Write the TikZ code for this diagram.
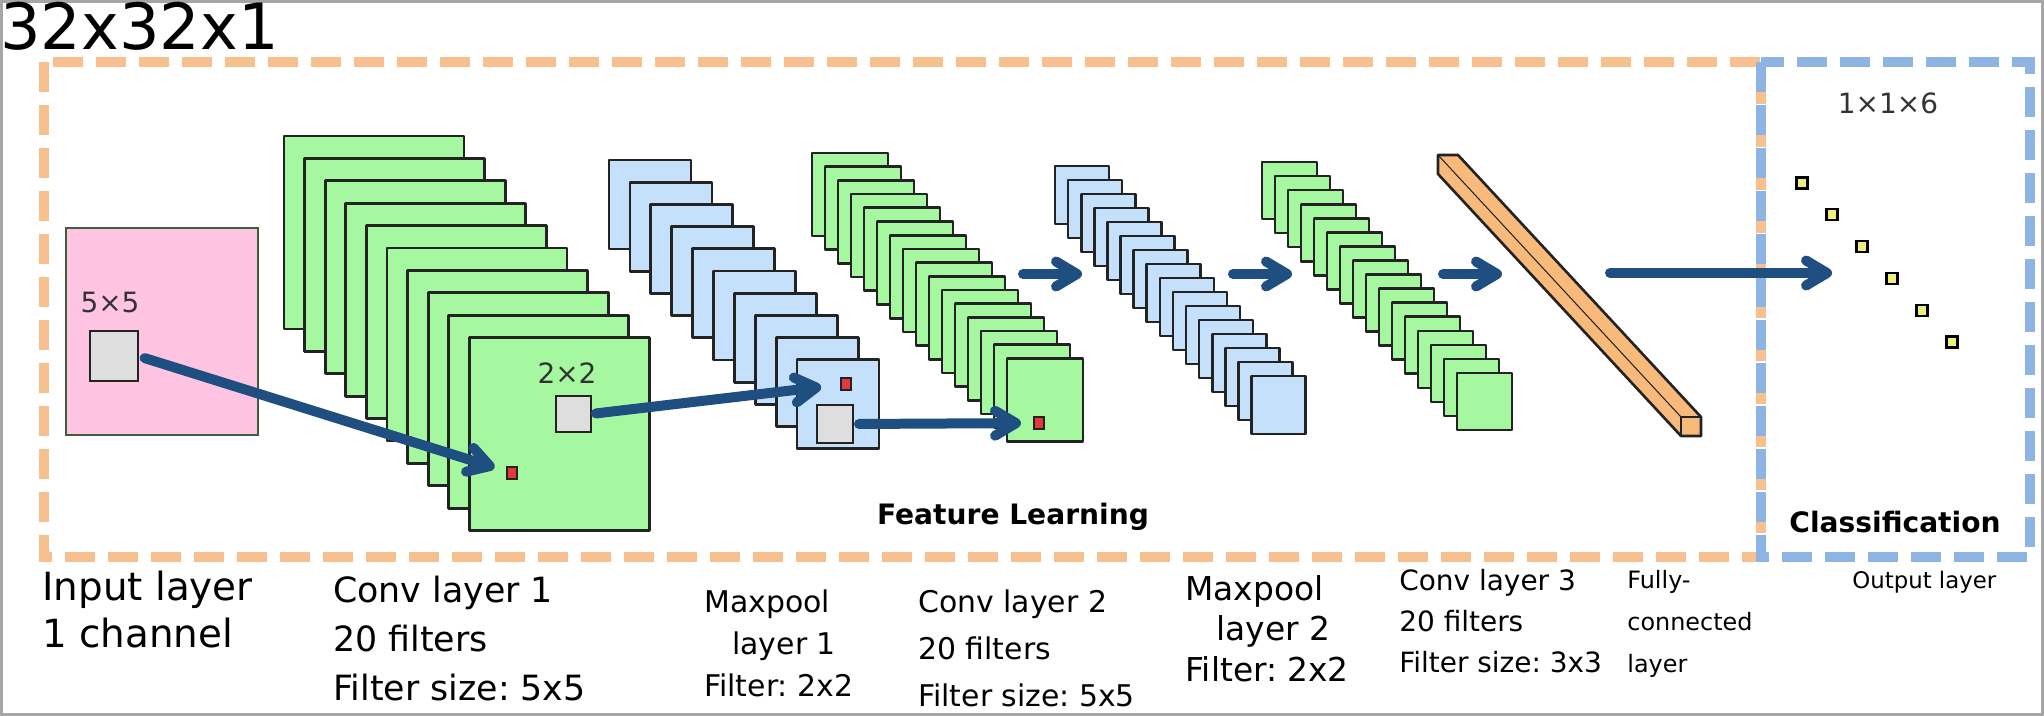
\documentclass[tikz,border=0pt]{standalone}
\usepackage{fontspec}
\setmainfont{DejaVu Sans}
\usetikzlibrary{arrows.meta,calc,positioning}
\frenchspacing

\definecolor{dashorange}{RGB}{248,192,142}
\definecolor{dashblue}{RGB}{141,180,226}
\definecolor{inpink}{RGB}{255,196,225}
\definecolor{pinkedge}{RGB}{62,92,62}
\definecolor{mapgreen}{RGB}{166,248,160}
\definecolor{poolblue}{RGB}{196,224,250}
\definecolor{fcorange}{RGB}{248,186,122}
\definecolor{arrowblue}{RGB}{31,78,128}
\definecolor{outyellow}{RGB}{238,240,122}
\definecolor{dotred}{RGB}{226,58,58}
\definecolor{edgegray}{RGB}{35,35,35}
\definecolor{framegray}{RGB}{166,166,166}

\newcommand{\fsz}[2]{\fontsize{#1}{#2}\selectfont}
\newcommand{\lyr}[1]{\begin{tabular}[t]{@{}l@{}}#1\end{tabular}}
% stack of maps: x, y, width, height, dx, dy, count, fill
\newcommand{\fmaps}[8]{%
  \foreach \k in {1,...,#7}
    \filldraw[sheet, fill=#8] ({#1+(\k-1)*#5},{#2+(\k-1)*#6}) rectangle ++(#3,#4);}

\begin{document}
\begin{tikzpicture}[x=0.02cm, y=-0.02cm,
  sheet/.style={draw=edgegray, line width=1.5pt, line join=round},
  patch/.style={draw=edgegray, line width=1.5pt, fill=black!13, inner sep=0pt, outer sep=0pt},
  pixel/.style={draw=edgegray, line width=1pt, fill=dotred, inner sep=0pt, outer sep=0pt,
    minimum width=0.2cm, minimum height=0.24cm},
  unit/.style={draw=black, line width=1.3pt, fill=outyellow, inner sep=0pt, minimum size=0.22cm},
  note/.style={inner sep=0pt, text=black!80, font=\fsz{15.9pt}{19pt}},
  heading/.style={inner sep=0pt, font=\bfseries\fsz{16pt}{19pt}},
  lbl/.style={anchor=base west, inner sep=0pt},
  flow/.style={draw=arrowblue, line width=0.2cm, line cap=round,
    -{Straight Barb[length=0.42cm, width=0.5cm, round]}},
  group/.style={line width=0.2cm, dash pattern=on 0.6cm off 0.26cm}]
	\useasboundingbox (0,0) rectangle (2044,716);
	\draw[framegray, line width=0.06cm] (1.5,1.5) rectangle (2042.5,714.5);

	% dashed groups
	\draw[group, dashorange] (44,62) rectangle (1761,557);
	\draw[group, dashblue] (1761,62) rectangle (2030,557);

	\node[lbl, font=\fsz{36.3pt}{40pt}] (dims) at (0,50) {32x32x1};

	% input
	\node[draw=pinkedge, line width=1.3pt, fill=inpink, minimum width=3.84cm, minimum height=4.14cm] (inp) at (162,331.5) {};
	\node[patch, minimum width=0.96cm, minimum height=1cm] (g5) at (114,356) {};
	\node[note] (k5) at (110,303) {5×5};

	% feature maps
	\fmaps{284}{136}{180}{193}{20.6}{22.4}{10}{mapgreen}
	\fmaps{609}{160}{82}{89}{20.9}{22.2}{10}{poolblue}
	\fmaps{812}{153}{76}{83}{13}{13.7}{16}{mapgreen}
	\fmaps{1055}{166}{54}{58}{13.1}{14}{16}{poolblue}
	\fmaps{1262}{162}{55}{57}{13}{14.07}{16}{mapgreen}

	\node[pixel] (r1) at (512,473) {};
	\node[patch, minimum width=0.7cm, minimum height=0.72cm] (g2) at (573.5,414) {};
	\node[note] (k2) at (567,373) {2×2};
	\node[pixel] (r2) at (846,384) {};
	\node[patch, minimum width=0.72cm, minimum height=0.76cm] (gp) at (835,424) {};
	\node[pixel] (r3) at (1039,423) {};

	% fully connected bar
	\filldraw[sheet, fill=fcorange] (1681,436) -- (1438,174) -- (1438,155) -- (1458,155)
		-- (1701,417) -- (1701,436) -- cycle;
	\draw[edgegray, line width=0.6pt] (1681,417) -- (1438,155);
	\draw[sheet] (1681,417) rectangle (1701,436);

	% output units
	\foreach \i [count=\n] in {0,...,5}
		\node[unit] (o\n) at ({1802+30*\i},{183+31.8*\i}) {};
	\node[note] (k6) at (1888,103) {1×1×6};

	% arrows
	\coordinate (s1) at (1023,274);
	\coordinate (e1) at (1082,274);
	\coordinate (s2) at (1233,274);
	\coordinate (e2) at (1292,274);
	\coordinate (s3) at (1443,274);
	\coordinate (e3) at (1502,274);
	\coordinate (s4) at (1610,273);
	\coordinate (e4) at (1832,273);

	\draw[flow, shorten <=0.14cm, shorten >=0.26cm] (g5.east) -- (r1);
	\draw[flow, shorten <=0.1cm, shorten >=0.4cm] (g2.east) -- (r2);
	\draw[flow, shorten <=0.12cm, shorten >=0.26cm] (gp.east) -- (r3);
	\draw[flow] (s1) -- (e1);
	\draw[flow] (s2) -- (e2);
	\draw[flow] (s3) -- (e3);
	\draw[flow] (s4) -- (e4);

	\node[heading] (feat) at (1013,517) {Feature Learning};
	\node[heading] (cls) at (1895,522) {Classification};

	% layer captions
	\node[lbl, font=\fsz{22.1pt}{27.2pt}] (inlbl) at (42,600) {\lyr{Input layer\\1 channel}};
	\node[lbl, font=\fsz{19.8pt}{28pt}] (c1lbl) at (333,602) {\lyr{Conv layer 1\\20 filters\\Filter size: 5x5}};
	\node[lbl, font=\fsz{17pt}{24pt}] (p1lbl) at (704,612) {\lyr{Maxpool\\\hspace{0.56cm}layer 1\\Filter: 2x2}};
	\node[lbl, font=\fsz{17pt}{27pt}] (c2lbl) at (918,612) {\lyr{Conv layer 2\\20 filters\\Filter size: 5x5}};
	\node[lbl, font=\fsz{18.7pt}{23.2pt}] (p2lbl) at (1185,600) {\lyr{Maxpool\\\hspace{0.62cm}layer 2\\Filter: 2x2}};
	\node[lbl, font=\fsz{15.9pt}{23.5pt}] (c3lbl) at (1399,590) {\lyr{Conv layer 3\\20 filters\\Filter size: 3x3}};
	\node[lbl, font=\fsz{13.6pt}{24pt}] (fclbl) at (1627,588) {\lyr{Fully-\\connected\\layer}};
	\node[lbl, font=\fsz{13pt}{16pt}] (outlbl) at (1852,588) {Output layer};
\end{tikzpicture}
\end{document}
